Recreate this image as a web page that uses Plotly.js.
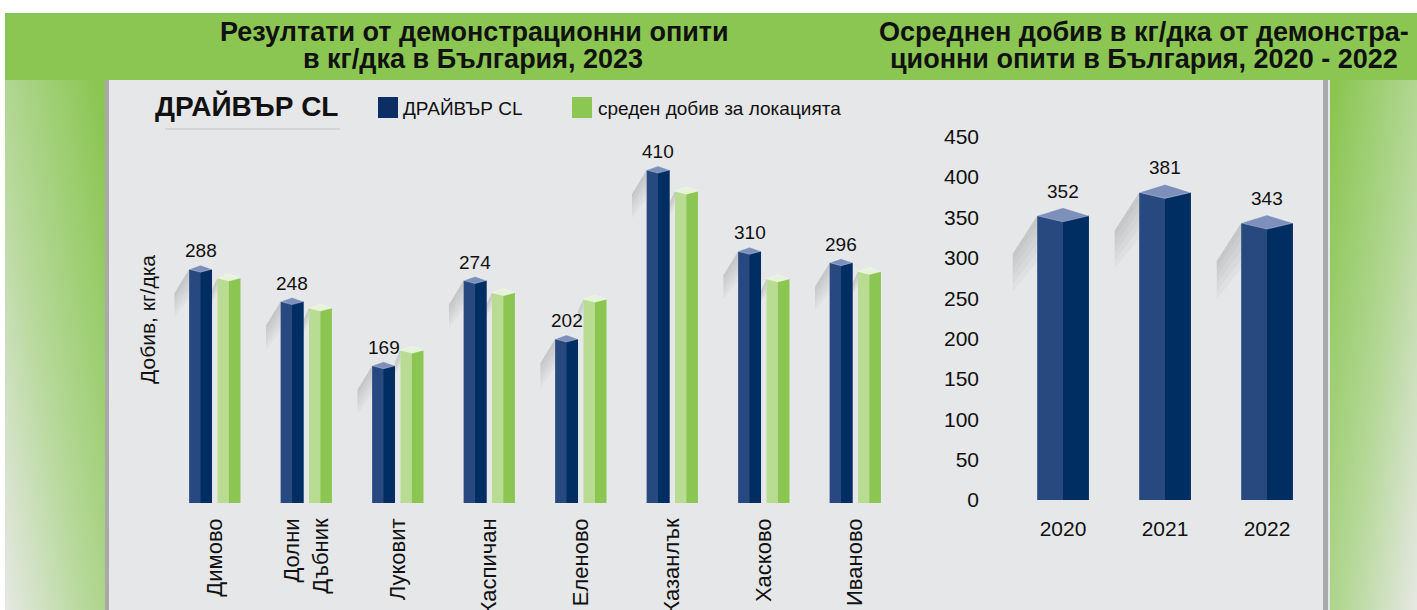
<!DOCTYPE html>
<html>
<head>
<meta charset="utf-8">
<script src="https://cdn.plot.ly/plotly-3.0.1.min.js"></script>
<style>
html, body {margin:0; padding:0; background:#fff;}
#myDiv {width:1417px; height:610px;}
</style>
</head>
<body>
<div id="myDiv"></div>
<script>
// Резултати от демонстрационни опити 2023, по локации
var locations = ['Димово', 'Долни<br>Дъбник', 'Луковит', 'Каспичан', 'Еленово', 'Казанлък', 'Хасково', 'Иваново'];
var driverYield = [288, 248, 169, 274, 202, 410, 310, 296];
var locationAvg = [277, 240, 188, 259, 251, 384, 276, 285];

// Осреднен добив 2020 - 2022
var years = ['2020', '2021', '2022'];
var yearYield = [352, 381, 343];
var yTicks = [0, 50, 100, 150, 200, 250, 300, 350, 400, 450];

var W = 1417, H = 610;
var font = 'Liberation Sans, Arial, sans-serif';

function px(x) { return x / W; }
function py(y) { return (H - y) / H; }

// one bar = light front face + dark side face
function bar(x, y, off, w, color, xa, ya) {
  return {type: 'bar', x: x, y: y, offset: off, width: w, xaxis: xa, yaxis: ya,
    marker: {color: color, line: {width: 0}}, showlegend: false, hoverinfo: 'x+y'};
}

var data = [
  bar(locations, driverYield, -0.28, 0.25, '#284880', 'x', 'y'),
  bar(locations, driverYield, -0.155, 0.125, '#002d62', 'x', 'y'),
  bar(locations, locationAvg, 0.03, 0.25, '#b8dc92', 'x', 'y'),
  bar(locations, locationAvg, 0.155, 0.125, '#8bc653', 'x', 'y'),
  bar(years, yearYield, -0.253, 0.506, '#284880', 'x2', 'y2'),
  bar(years, yearYield, 0, 0.253, '#002d62', 'x2', 'y2')
];

// top caps, pointed bottoms and soft shadows of the pseudo 3d bars
function tops(vals, off, w, xa, ya, cap, faceL, faceR, up, down, foot, sdx, sdy) {
  var out = [];
  for (let i = 0; i < vals.length; i++) {
    var xl = i + off, xm = i + off + w / 2, xr = i + off + w;
    for (let k = 1; k <= 5; k++) {
      var h = sdy * k / 5;
      out.push({type: 'path', xref: xa, yref: ya, ysizemode: 'pixel', yanchor: vals[i], layer: 'below',
        path: 'M' + xl + ',0 L' + (xl - sdx) + ',' + (-sdy) + ' L' + (xl - sdx) + ',' + (-sdy - h) +
          ' L' + xl + ',' + (-h * 1.2) + ' Z',
        fillcolor: 'rgba(120,120,120,0.06)', line: {width: 0}});
    }
    out.push({type: 'path', xref: xa, yref: ya, ysizemode: 'pixel', yanchor: vals[i],
      path: 'M' + xl + ',0 L' + xm + ',' + up + ' L' + xr + ',0 L' + xm + ',' + (-down) + ' Z',
      fillcolor: cap, line: {color: 'rgba(255,255,255,0.5)', width: 0.6}});
    out.push({type: 'path', xref: xa, yref: ya, ysizemode: 'pixel', yanchor: 0,
      path: 'M' + xl + ',0 L' + xm + ',0 L' + xm + ',' + (-foot) + ' Z',
      fillcolor: faceL, line: {width: 0}});
    out.push({type: 'path', xref: xa, yref: ya, ysizemode: 'pixel', yanchor: 0,
      path: 'M' + xm + ',0 L' + xr + ',0 L' + xm + ',' + (-foot) + ' Z',
      fillcolor: faceR, line: {width: 0}});
  }
  return out;
}

var shapes = [
  {type: 'rect', xref: 'paper', yref: 'paper', x0: px(5), x1: 1, y0: py(80), y1: py(13),
    fillcolor: '#8bc653', line: {width: 0}, layer: 'below'},
  {type: 'rect', xref: 'paper', yref: 'paper', x0: px(105), x1: px(1330), y0: 0, y1: py(80),
    fillcolor: '#e6e7e8', line: {width: 0}, layer: 'below'},
  {type: 'rect', xref: 'paper', yref: 'paper', x0: px(105), x1: px(109), y0: 0, y1: py(80),
    fillcolor: '#8e8e8e', opacity: 0.7, line: {width: 0}, layer: 'below'},
  {type: 'rect', xref: 'paper', yref: 'paper', x0: px(1323), x1: px(1328), y0: 0, y1: py(80),
    fillcolor: '#8e8e8e', opacity: 0.7, line: {width: 0}, layer: 'below'},
  {type: 'line', xref: 'paper', yref: 'paper', x0: px(165), x1: px(340), y0: py(129), y1: py(129),
    line: {color: 'rgba(160,160,160,0.25)', width: 2}, layer: 'below'},
  // legend squares
  {type: 'rect', xref: 'paper', yref: 'paper', x0: px(378), x1: px(398), y0: py(118), y1: py(97),
    fillcolor: '#0b2f64', line: {width: 0}},
  {type: 'rect', xref: 'paper', yref: 'paper', x0: px(572), x1: px(592), y0: py(118), y1: py(97),
    fillcolor: '#8cc653', line: {width: 0}}
];
shapes = shapes.concat(
  tops(driverYield, -0.28, 0.25, 'x', 'y', '#7d90bb', '#284880', '#002d62', 4, 3, 4, 0.16, 24),
  tops(locationAvg, 0.03, 0.25, 'x', 'y', '#e6f3d8', '#b8dc92', '#8bc653', 4, 3, 4, 0.06, 12),
  tops(yearYield, -0.253, 0.506, 'x2', 'y2', '#7d90bb', '#284880', '#002d62', 8, 6, 6, 0.24, 38)
);

function titleLine(txt, x, y) {
  return {xref: 'paper', yref: 'paper', x: px(x), y: py(y), xanchor: 'center', yanchor: 'middle',
    showarrow: false, text: '<b>' + txt + '</b>', font: {family: font, size: 27, color: '#111'}};
}

var annotations = [
  titleLine('Резултати от демонстрационни опити', 474, 32),
  titleLine('в кг/дка в България, 2023', 473, 59),
  titleLine('Осреднен добив в кг/дка от демонстра-', 1144, 32),
  titleLine('ционни опити в България, 2020 - 2022', 1144, 59),
  {xref: 'paper', yref: 'paper', x: px(153), y: py(106), xanchor: 'left', yanchor: 'middle', showarrow: false,
    text: '<b>ДРАЙВЪР CL</b>', font: {family: font, size: 28, color: '#111'}},
  {xref: 'paper', yref: 'paper', x: px(401), y: py(108), xanchor: 'left', yanchor: 'middle', showarrow: false,
    text: 'ДРАЙВЪР CL', font: {family: font, size: 19, color: '#111'}},
  {xref: 'paper', yref: 'paper', x: px(596), y: py(108), xanchor: 'left', yanchor: 'middle', showarrow: false,
    text: 'среден добив за локацията', font: {family: font, size: 19, color: '#111'}},
  {xref: 'paper', yref: 'paper', x: px(147), y: py(320), xanchor: 'center', yanchor: 'middle', showarrow: false,
    textangle: -90, text: 'Добив, кг/дка', font: {family: font, size: 21, color: '#111'}}
];

// стойности над сините колони
for (let i = 0; i < locations.length; i++) {
  annotations.push({xref: 'x', yref: 'y', x: i, y: driverYield[i], xshift: -14, yshift: 6,
    yanchor: 'bottom', showarrow: false, text: String(driverYield[i]),
    font: {family: font, size: 19, color: '#111'}});
}
for (let i = 0; i < years.length; i++) {
  annotations.push({xref: 'x2', yref: 'y2', x: i, y: yearYield[i], yshift: 12,
    yanchor: 'bottom', showarrow: false, text: String(yearYield[i]),
    font: {family: font, size: 19, color: '#111'}});
}

var svgStrip = function (x1, y1, x2, y2) {
  var s = "<svg xmlns='http://www.w3.org/2000/svg' width='100' height='530' preserveAspectRatio='none'>" +
    "<defs><linearGradient id='g' x1='" + x1 + "' y1='" + y1 + "' x2='" + x2 + "' y2='" + y2 + "'>" +
    "<stop offset='0' stop-color='#8bc653'/><stop offset='0.55' stop-color='#b6d899'/>" +
    "<stop offset='1' stop-color='#e6e8e4'/></linearGradient></defs>" +
    "<rect width='100' height='530' fill='url(#g)'/></svg>";
  return 'data:image/svg+xml;charset=utf-8,' + encodeURIComponent(s);
};

var layout = {
  width: W, height: H,
  margin: {l: 0, r: 0, t: 0, b: 0},
  paper_bgcolor: '#ffffff',
  plot_bgcolor: 'rgba(0,0,0,0)',
  barmode: 'overlay',
  showlegend: false,
  font: {family: font, color: '#111'},
  xaxis: {domain: [px(169), px(901)], range: [-0.5, 7.5], type: 'category', anchor: 'y',
    tickangle: -90, ticks: '', ticklabelstandoff: 10, showline: false, showgrid: false,
    tickfont: {family: font, size: 22, color: '#111'}},
  yaxis: {domain: [py(503), py(97)], range: [0, 500], anchor: 'x',
    showticklabels: false, showgrid: false, zeroline: false, showline: false},
  xaxis2: {domain: [px(1012), px(1318)], range: [-0.5, 2.5], type: 'category', anchor: 'y2',
    ticks: '', ticklabelstandoff: 14, showline: false, showgrid: false,
    tickfont: {family: font, size: 21, color: '#111'}},
  yaxis2: {domain: [py(500), py(136.7)], range: [0, 450], anchor: 'x2',
    tickvals: yTicks, ticks: '', ticklabelstandoff: 32, showgrid: false, zeroline: false, showline: false,
    tickfont: {family: font, size: 21, color: '#111'}},
  shapes: shapes,
  annotations: annotations,
  images: [
    {source: svgStrip(1, 0.1, 0, 1), xref: 'paper', yref: 'paper', x: px(5), y: py(80),
      sizex: px(100), sizey: py(80), xanchor: 'left', yanchor: 'top', sizing: 'stretch', layer: 'below'},
    {source: svgStrip(0, 0.1, 1, 1), xref: 'paper', yref: 'paper', x: px(1330), y: py(80),
      sizex: px(87), sizey: py(80), xanchor: 'left', yanchor: 'top', sizing: 'stretch', layer: 'below'}
  ]
};

Plotly.newPlot('myDiv', data, layout, {displayModeBar: false, staticPlot: true});
</script>
</body>
</html>
